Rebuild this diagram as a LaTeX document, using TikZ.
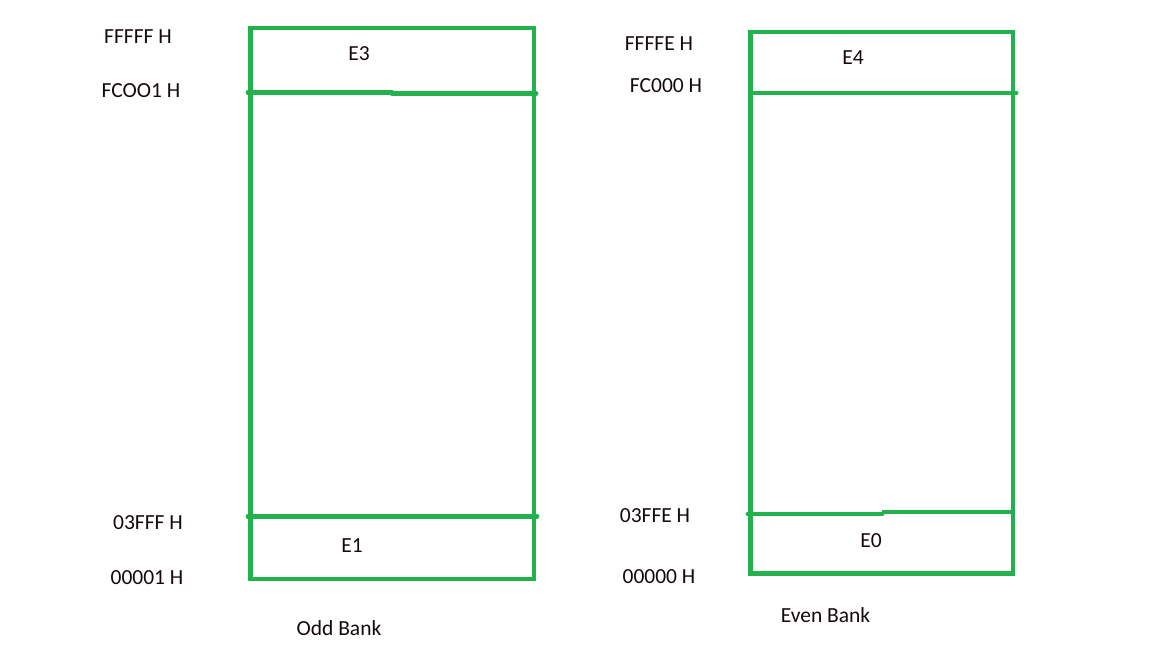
\documentclass[tikz,border=0pt]{standalone}
\usepackage{fontspec}
\setmainfont{Carlito}
\definecolor{paintgreen}{RGB}{34,177,76}
\definecolor{txt}{RGB}{20,10,10}
\begin{document}
\begin{tikzpicture}[x=1pt,y=-1pt,
  bank/.style={draw=paintgreen,line width=4.8pt},
  lbl/.style={anchor=base,inner sep=0pt,text=txt,font=\fontsize{21.5}{25}\selectfont}]
\useasboundingbox[fill=white] (0,0) rectangle (1152,648);
% odd bank
\draw[bank] (250.5,28) rectangle (534,579);
\draw[bank,line cap=round] (248,92.5) -- (392,92.5);
\draw[bank,line cap=round] (392,93.5) -- (536,93.5);
\draw[bank,line cap=round] (248,516.5) -- (537,516.5);
% even bank
\draw[bank] (750.5,32) rectangle (1013,573.5);
\draw[bank,line cap=round] (751,93) -- (1016,93);
\draw[bank,line cap=round] (748,514) -- (882,514);
\draw[bank] (882,512) -- (1013,512);
% labels
\node[lbl] (a1) at (138,43) {FFFFF H};
\node[lbl] (a2) at (141,97) {FCOO1 H};
\node[lbl] (a3) at (148,529) {03FFF H};
\node[lbl] (a4) at (147,584) {00001 H};
\node[lbl] (e3) at (359,60) {E3};
\node[lbl] (e1) at (352,552) {E1};
\node[lbl] (odd) at (339,635) {Odd Bank};
\node[lbl] (b1) at (659,50) {FFFFE H};
\node[lbl] (b2) at (666,92) {FC000 H};
\node[lbl] (b3) at (655,522) {03FFE H};
\node[lbl] (b4) at (659,583) {00000 H};
\node[lbl] (e4) at (853,64) {E4};
\node[lbl] (e0) at (871,547) {E0};
\node[lbl] (even) at (825.5,622) {Even Bank};
\end{tikzpicture}
\end{document}
